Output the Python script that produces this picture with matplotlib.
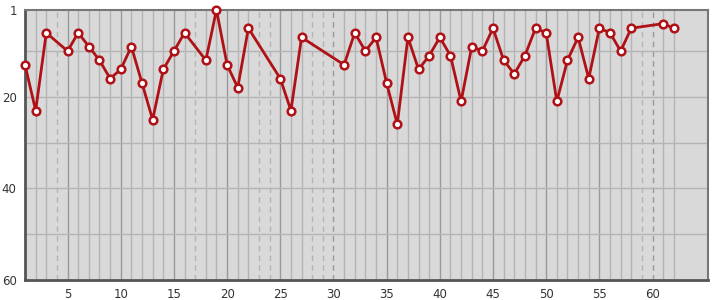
import matplotlib
matplotlib.use('Agg')
import matplotlib.pyplot as plt
import numpy as np

# days with data and their rank
days = [1, 2, 3, 5, 6, 7, 8, 9, 10, 11, 12, 13, 14, 15, 16, 18, 19, 20, 21, 22,
        25, 26, 27, 31, 32, 33, 34, 35, 36, 37, 38, 39, 40, 41, 42, 43, 44, 45,
        46, 47, 48, 49, 50, 51, 52, 53, 54, 55, 56, 57, 58, 61, 62]
rank = [13, 23, 6, 10, 6, 9, 12, 16, 14, 9, 17, 25, 14, 10, 6, 12, 1, 13, 18, 5,
        16, 23, 7, 13, 6, 10, 7, 17, 26, 7, 14, 11, 7, 11, 21, 9, 10, 5,
        12, 15, 11, 5, 6, 21, 12, 7, 16, 5, 6, 10, 5, 4, 5]
xticks = [5, 10, 15, 20, 25, 30, 35, 40, 45, 50, 55, 60]
yticks = [1, 20, 40, 60]

fig = plt.figure(figsize=(7.15, 3.0), dpi=100)
ax = fig.add_axes([0.035, 0.067, 0.955, 0.9])
ax.set_facecolor('#d9d9d9')

# vertical grid: one line per day, dashed where no data
for d in range(2, days[-1] + 1):
    dark = d % 5 == 0
    col = '#999999' if dark else '#b4b4b4'
    if d in days:
        ax.axvline(d, color=col, lw=1, zorder=1)
    else:
        ax.axvline(d, color=col, lw=1, ls=(0, (4, 3)), zorder=1)

for v in [10, 20, 30, 40, 50]:
    ax.axhline(v, color='#b4b4b4', lw=1, zorder=1)

ax.plot(days, rank, '-o', color='#b01116', lw=2, ms=5.5,
        mfc='white', mec='#b01116', mew=1.8, zorder=3, clip_on=False)

ax.set_xlim(1, 65.2)
ax.set_ylim(60, 1)
ax.set_xticks(xticks)
ax.set_yticks(yticks)
ax.tick_params(length=0, labelsize=8.5, colors='#333333', pad=6)
for s in ax.spines.values():
    s.set_color('#777777')
    s.set_linewidth(1.5)
ax.spines['left'].set_color('#555555')
ax.spines['bottom'].set_color('#555555')
ax.spines['left'].set_linewidth(2)
ax.spines['bottom'].set_linewidth(2)

plt.savefig('out.png', dpi=100)
